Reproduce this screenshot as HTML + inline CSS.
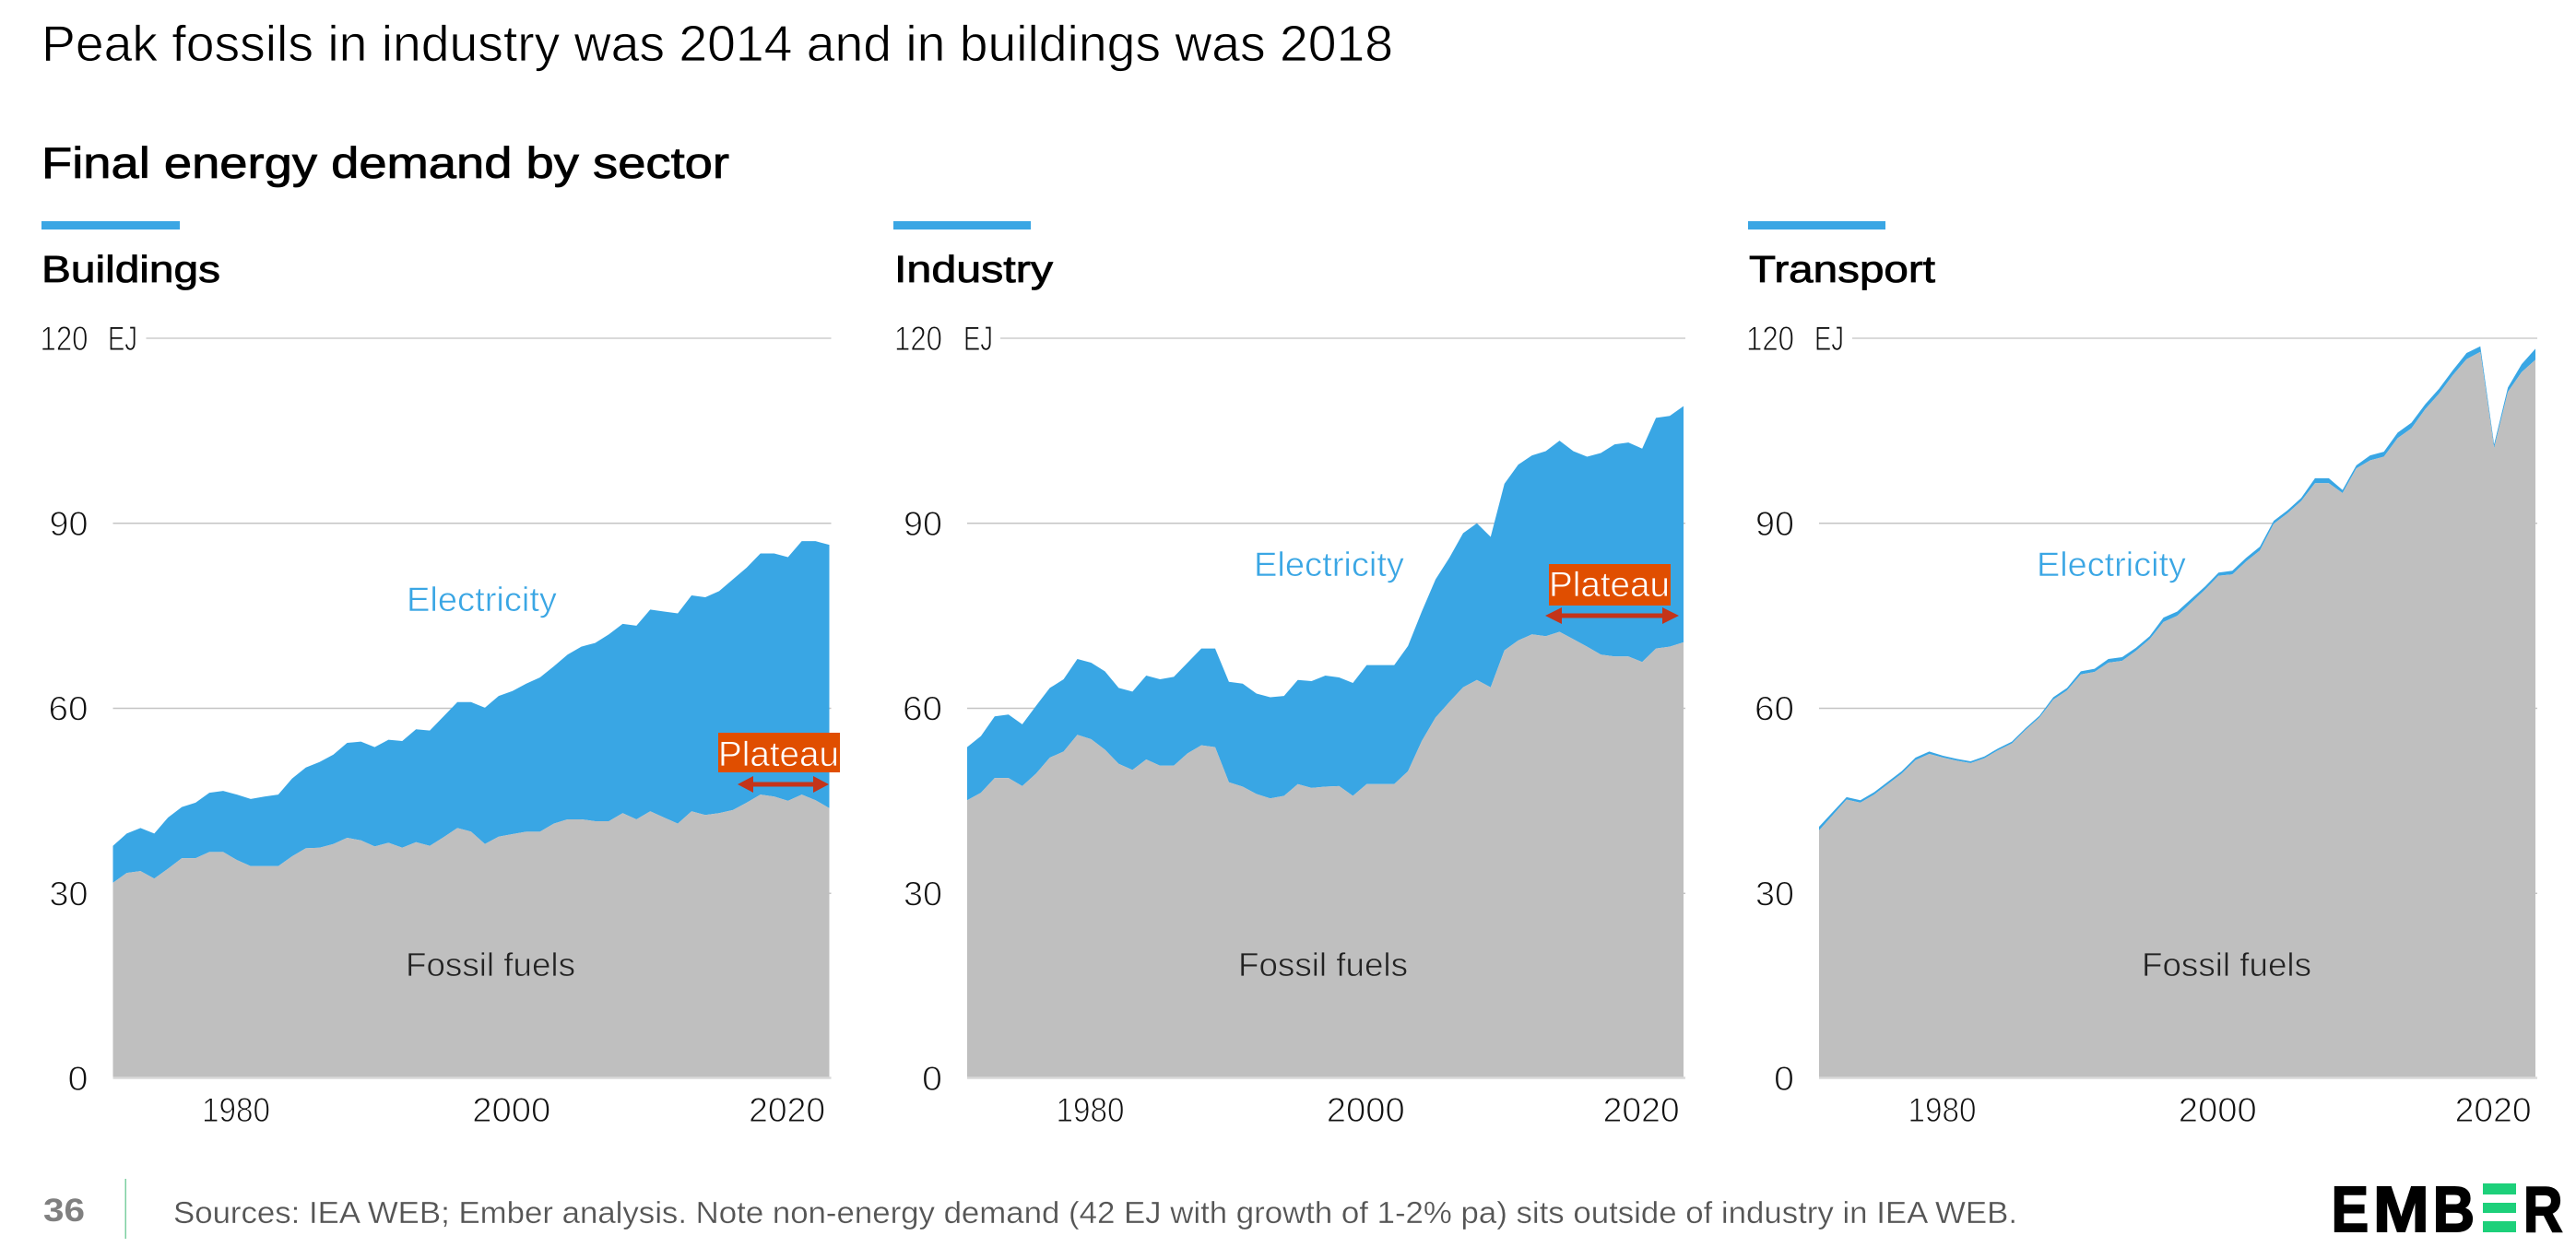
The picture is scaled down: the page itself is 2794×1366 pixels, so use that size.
<!DOCTYPE html>
<html lang="en">
<head>
<meta charset="utf-8">
<title>Peak fossils in industry was 2014 and in buildings was 2018</title>
<style>
html,body{margin:0;padding:0;background:#fff;width:2794px;height:1366px;overflow:hidden}
svg{display:block}
text{font-family:"Liberation Sans",sans-serif}
.light{stroke:#fff;stroke-width:.8px}
.medium{stroke:#000;stroke-width:.8px}
.tick{font-size:37px;fill:#111;stroke:#fff;stroke-width:1px}
.elec{font-size:37px;fill:#3aa6e4;stroke:#fff;stroke-width:.6px}
.fossil-label{font-size:36px;fill:#222;stroke:#bfbfbf;stroke-width:.7px}
.plateau{font-size:38px;fill:#fff;stroke:#e04e00;stroke-width:.7px}
</style>
</head>
<body>
<svg id="slide" xmlns="http://www.w3.org/2000/svg" width="2794" height="1366" viewBox="0 0 2794 1366">
  <rect width="2794" height="1366" fill="#fff"/>
  <text class="light" x="45" y="66" font-size="55" fill="#000" textLength="1466" lengthAdjust="spacingAndGlyphs">Peak fossils in industry was 2014 and in buildings was 2018</text>
  <text class="medium" x="45" y="193" font-size="47" fill="#000" textLength="746" lengthAdjust="spacingAndGlyphs">Final energy demand by sector</text>

  <rect x="45" y="240" width="150" height="9" fill="#3aa6e4"/>
  <rect x="969" y="240" width="149" height="9" fill="#3aa6e4"/>
  <rect x="1896" y="240" width="149" height="9" fill="#3aa6e4"/>
  <text class="medium" x="45" y="306" font-size="41" fill="#000" textLength="194" lengthAdjust="spacingAndGlyphs">Buildings</text>
  <text class="medium" x="970" y="306" font-size="41" fill="#000" textLength="172" lengthAdjust="spacingAndGlyphs">Industry</text>
  <text class="medium" x="1897" y="306" font-size="41" fill="#000" textLength="202" lengthAdjust="spacingAndGlyphs">Transport</text>

  <g id="chart-buildings"></g>
  <g id="chart-industry"></g>
  <g id="chart-transport"></g>

  <text class="tick" x="117" y="380" textLength="32" lengthAdjust="spacingAndGlyphs">EJ</text>
  <text class="tick" x="1045" y="380" textLength="32" lengthAdjust="spacingAndGlyphs">EJ</text>
  <text class="tick" x="1968" y="380" textLength="32" lengthAdjust="spacingAndGlyphs">EJ</text>

  <text class="elec" x="441" y="663" textLength="163" lengthAdjust="spacingAndGlyphs">Electricity</text>
  <text class="elec" x="1360" y="625" textLength="163" lengthAdjust="spacingAndGlyphs">Electricity</text>
  <text class="elec" x="2209" y="625" textLength="162" lengthAdjust="spacingAndGlyphs">Electricity</text>
  <text class="fossil-label" x="440" y="1059" textLength="184" lengthAdjust="spacingAndGlyphs">Fossil fuels</text>
  <text class="fossil-label" x="1343" y="1059" textLength="184" lengthAdjust="spacingAndGlyphs">Fossil fuels</text>
  <text class="fossil-label" x="2323" y="1059" textLength="184" lengthAdjust="spacingAndGlyphs">Fossil fuels</text>

  <g>
    <rect x="779" y="795" width="132" height="43" fill="#e04e00"/>
    <text class="plateau" x="779" y="831" textLength="131" lengthAdjust="spacingAndGlyphs">Plateau</text>
    <path d="M800 851 L817 842 L817 848.500 L882 848.500 L882 842 L899 851 L882 860 L882 853.500 L817 853.500 L817 860 Z" fill="#c4341a"/>
  </g>
  <g>
    <rect x="1680" y="612" width="132" height="45" fill="#e04e00"/>
    <text class="plateau" x="1680" y="647" textLength="131" lengthAdjust="spacingAndGlyphs">Plateau</text>
    <path d="M1676 668 L1694 659 L1694 665.500 L1803 665.500 L1803 659 L1821 668 L1803 677 L1803 670.500 L1694 670.500 L1694 677 Z" fill="#c4341a"/>
  </g>

  <text x="47" y="1325" font-size="35" font-weight="bold" fill="#808080" textLength="45" lengthAdjust="spacingAndGlyphs">36</text>
  <rect x="135.500" y="1279" width="1.500" height="65" fill="#7dcfa0"/>
  <text x="188" y="1327" font-size="33" fill="#555" textLength="2000" lengthAdjust="spacingAndGlyphs" stroke="#fff" stroke-width=".3">Sources: IEA WEB; Ember analysis. Note non-energy demand (42 EJ with growth of 1-2% pa) sits outside of industry in IEA WEB.</text>

  <g stroke="#000" stroke-width="2">
    <title>EMBER</title>
    <text x="2528.600" y="1336" font-size="70" font-weight="bold" fill="#000" textLength="40.500" lengthAdjust="spacingAndGlyphs">E</text>
    <text x="2574" y="1336" font-size="70" font-weight="bold" fill="#000" textLength="60.700" lengthAdjust="spacingAndGlyphs">M</text>
    <text x="2638.700" y="1336" font-size="70" font-weight="bold" fill="#000" textLength="45.300" lengthAdjust="spacingAndGlyphs">B</text>
    <rect x="2693" y="1284" width="36" height="12" fill="#1dd07a" stroke="none"/>
    <rect x="2693" y="1305" width="36" height="11" fill="#1dd07a" stroke="none"/>
    <rect x="2693" y="1325" width="36" height="12" fill="#1dd07a" stroke="none"/>
    <text x="2737" y="1336" font-size="70" font-weight="bold" fill="#000" textLength="42.500" lengthAdjust="spacingAndGlyphs">R</text>
  </g>
</svg>

<script>
const years = [1971,1972,1973,1974,1975,1976,1977,1978,1979,1980,1981,1982,1983,1984,1985,1986,1987,1988,1989,1990,1991,1992,1993,1994,1995,1996,1997,1998,1999,2000,2001,2002,2003,2004,2005,2006,2007,2008,2009,2010,2011,2012,2013,2014,2015,2016,2017,2018,2019,2020,2021,2022,2023];
const xTickYears = [1980,2000,2020];
const yTickValues = [0,30,60,90,120];

const buildingsFossil = [31.7,33.3,33.6,32.4,34,35.7,35.7,36.7,36.7,35.4,34.4,34.4,34.4,36,37.3,37.4,38,39,38.6,37.6,38.2,37.4,38.3,37.7,39.1,40.6,40,38,39.2,39.6,40,40,41.3,42,42,41.7,41.7,43,42,43.3,42.3,41.3,43.3,42.7,43,43.5,44.7,46,45.7,45,46,45.1,43.8];
const buildingsTotal = [37.7,39.7,40.6,39.7,42.3,44,44.7,46.3,46.6,46,45.3,45.7,46,48.6,50.4,51.3,52.5,54.4,54.6,53.7,54.9,54.7,56.6,56.4,58.7,61,61,60.1,62,62.8,64,65,66.8,68.7,70,70.6,72,73.7,73.4,76,75.7,75.4,78.3,78,79,80.9,82.8,85.1,85.1,84.5,87.1,87.1,86.5];

const industryFossil = [45.1,46.3,48.7,48.7,47.4,49.4,52,53,55.7,55,53.3,51,50,51.7,50.7,50.7,52.7,54,53.7,48,47.3,46.1,45.4,45.8,47.7,47.1,47.3,47.4,45.8,47.7,47.7,47.7,49.8,54.7,58.5,61,63.4,64.6,63.4,69.4,71,72,71.7,72.4,71.2,70,68.7,68.4,68.4,67.5,69.7,70,70.7];
const industryTotal = [53.7,55.5,58.7,59,57.4,60.4,63.3,64.7,68,67.4,66,63.3,62.7,65.3,64.7,65.1,67.4,69.7,69.7,64.3,64,62.4,61.8,62,64.6,64.4,65.3,65,64.1,67,67,67,70.1,75.7,80.9,84.4,88.4,90,87.8,96.4,99.5,101,101.7,103.4,101.7,100.8,101.4,102.8,103.1,102.1,107.1,107.4,109];

const transportFossil = [40.2,42.7,45.2,44.7,46,47.7,49.4,51.6,52.6,52,51.5,51.1,51.9,53.2,54.3,56.5,58.5,61.4,62.9,65.5,65.9,67.4,67.7,69.3,71.2,74,75,77.1,79.2,81.5,81.7,83.8,85.6,89.9,91.6,93.6,96.5,96.5,94.9,98.9,100.2,100.8,103.8,105.4,108.5,111,114,116.6,117.8,102.2,111.3,114.5,116.5];
const transportTotal = [40.8,43.2,45.6,45.1,46.4,48.1,49.8,52,53,52.3,51.8,51.4,52.2,53.5,54.6,56.8,58.8,61.8,63.3,66,66.4,68,68.3,69.8,71.7,74.7,75.7,77.7,79.7,82,82.3,84.4,86.2,90.4,92.1,94.1,97.3,97.3,95.4,99.4,101,101.6,104.7,106.3,109.3,111.8,114.8,117.6,118.7,102.8,112,115.8,118.3];

const SVG_NS = 'http://www.w3.org/2000/svg';
const AXIS_TOP = 367;
const AXIS_BOTTOM = 1170;
const PLOT_WIDTH = 777;
const Y_MAX = 120;

function yScale(value) {
  return AXIS_BOTTOM - (value / Y_MAX) * (AXIS_BOTTOM - AXIS_TOP);
}
function xScale(year, left) {
  const first = years[0];
  const last = years[years.length - 1];
  return left + ((year - first) / (last - first)) * PLOT_WIDTH;
}
function digitRun(label) {
  const advance = {0: 21.5, 1: 10, 2: 20, 3: 20, 4: 21, 5: 20, 6: 21, 7: 19, 8: 21.5, 9: 20.5};
  let sum = 0;
  for (const ch of String(label)) sum += advance[ch];
  return Math.round(sum);
}
function makeEl(tag, attrs, parent) {
  const el = document.createElementNS(SVG_NS, tag);
  for (const key in attrs) el.setAttribute(key, attrs[key]);
  parent.appendChild(el);
  return el;
}
function areaPath(upper, lower, left) {
  let d = '';
  for (let i = 0; i < years.length; i++) {
    d += (i ? 'L' : 'M') + xScale(years[i], left).toFixed(2) + ' ' + yScale(upper[i]).toFixed(2) + ' ';
  }
  for (let i = years.length - 1; i >= 0; i--) {
    const base = lower ? lower[i] : 0;
    d += 'L' + xScale(years[i], left).toFixed(2) + ' ' + yScale(base).toFixed(2) + ' ';
  }
  return d + 'Z';
}
function drawPanel(id, key, left, fossil, total) {
  const root = document.getElementById(id);

  for (const tick of yTickValues) {
    if (tick > 0) {
      const startX = tick === Y_MAX ? left + 36 : left;
      const line = makeEl('line', {x1: startX, x2: left + PLOT_WIDTH + 2, y1: yScale(tick), y2: yScale(tick), stroke: tick === Y_MAX ? '#d9d9d9' : '#c4c4c4', 'stroke-width': tick === Y_MAX ? 2 : 1.5}, root);
      
      
    }
    const label = makeEl('text', {class: 'tick', x: left - 27, y: yScale(tick) + 13, 'text-anchor': 'end', textLength: digitRun(tick), lengthAdjust: 'spacingAndGlyphs'}, root);
    label.textContent = tick;
    
    
  }

  const elecArea = makeEl('path', {d: areaPath(total, fossil, left), fill: '#39a6e4'}, root);
  
  

  const fossilArea = makeEl('path', {d: areaPath(fossil, null, left), fill: '#bfbfbf'}, root);
  
  

  const baseline = makeEl('line', {x1: left, x2: left + PLOT_WIDTH + 2, y1: AXIS_BOTTOM - 0.5, y2: AXIS_BOTTOM - 0.5, stroke: '#d9d9d9', 'stroke-width': 2.5}, root);
  
  

  for (const year of xTickYears) {
    const xLabel = makeEl('text', {class: 'tick', x: xScale(year, left) - 1, y: 1217, 'text-anchor': 'middle', textLength: digitRun(year), lengthAdjust: 'spacingAndGlyphs'}, root);
    xLabel.textContent = year;
    
    
  }
}

drawPanel('chart-buildings', 'buildings', 122.5, buildingsFossil, buildingsTotal);
drawPanel('chart-industry', 'industry', 1049, industryFossil, industryTotal);
drawPanel('chart-transport', 'transport', 1973, transportFossil, transportTotal);
</script>
</body>
</html>
